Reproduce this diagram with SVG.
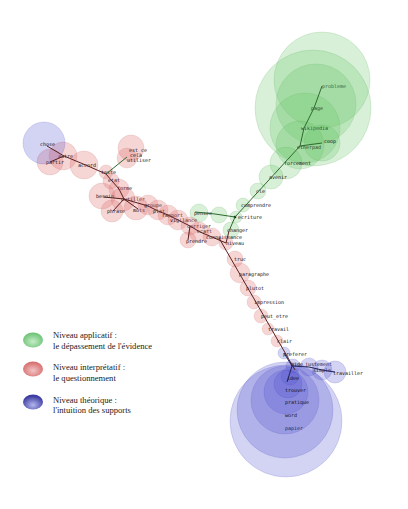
<svg xmlns="http://www.w3.org/2000/svg" width="408" height="509" viewBox="0 0 408 509">
<defs>
<radialGradient id="gG" cx="50%" cy="60%" r="60%"><stop offset="0" stop-color="#c8ecc8"/><stop offset="1" stop-color="#66c070"/></radialGradient>
<radialGradient id="gR" cx="50%" cy="60%" r="60%"><stop offset="0" stop-color="#f3c4c4"/><stop offset="1" stop-color="#d46868"/></radialGradient>
<radialGradient id="gB" cx="50%" cy="70%" r="60%"><stop offset="0" stop-color="#b4b8ee"/><stop offset="1" stop-color="#3c3ca0"/></radialGradient>
<style>
.g{fill:rgb(100,195,100);fill-opacity:.25;stroke:rgb(90,170,90);stroke-opacity:.3;stroke-width:.6}
.r{fill:rgb(225,115,115);fill-opacity:.3;stroke:rgb(200,110,110);stroke-opacity:.3;stroke-width:.6}
.b{fill:rgb(85,85,210);fill-opacity:.26;stroke:rgb(80,80,190);stroke-opacity:.3;stroke-width:.6}
.t{font-family:"DejaVu Sans Mono","Liberation Mono",monospace;font-size:5px;fill:#111}
.lg{font-family:"Liberation Serif",serif;font-size:8.6px;fill:#222}
.eg{fill:none;stroke:#2f6a2f;stroke-width:1}
.er{fill:none;stroke:#5a2020;stroke-width:1}
.eb{fill:none;stroke:#20205a;stroke-width:1}
</style>
</defs>
<rect width="408" height="509" fill="#fff"/>

<!-- green cluster -->
<g id="n-probleme"><circle class="g" cx="322" cy="80" r="48"/><text class="t" x="322" y="88">probleme</text></g>
<g id="n-page"><circle class="g" cx="313" cy="108" r="58"/><circle class="g" cx="316" cy="104" r="40"/><text class="t" x="311" y="110">page</text></g>
<g id="n-wikipedia"><circle class="g" cx="305" cy="128" r="35"/><text class="t" x="301" y="130">wikipedia</text></g>
<g id="n-etherpad"><circle class="g" cx="300" cy="145" r="24"/><text class="t" x="297" y="149">etherpad</text></g>
<g id="n-coop"><circle class="g" cx="322" cy="143" r="18"/><text class="t" x="324" y="143">coop</text></g>
<g id="n-forcement"><circle class="g" cx="286" cy="163" r="16"/><text class="t" x="284" y="165">forcement</text></g>
<g id="n-avenir"><circle class="g" cx="271" cy="177" r="12"/><text class="t" x="269" y="179">avenir</text></g>
<g id="n-cle"><circle class="g" cx="258" cy="191" r="8"/><text class="t" x="256" y="193">cle</text></g>
<g id="n-comprendre"><circle class="g" cx="243" cy="205" r="7"/><text class="t" x="241" y="207">comprendre</text></g>
<g id="n-pensee"><circle class="g" cx="199" cy="213" r="9"/><circle class="g" cx="219" cy="215" r="8"/><text class="t" x="194" y="215">pensee</text></g>
<g id="n-ecriture"><circle class="g" cx="236" cy="217" r="6"/><circle cx="235" cy="217" r="1.3" fill="#000"/><text class="t" x="238" y="219">ecriture</text></g>
<g id="n-changer"><circle class="g" cx="231" cy="230" r="8"/><text class="t" x="227" y="232">changer</text></g>

<!-- red cluster -->
<g id="n-autre"><circle class="r" cx="63" cy="156" r="14"/><text class="t" x="58" y="158">autre</text></g>
<g id="n-partir"><circle class="r" cx="50" cy="162" r="13"/><text class="t" x="46" y="164">partir</text></g>
<g id="n-accord"><circle class="r" cx="84" cy="165" r="14"/><text class="t" x="78" y="167">accord</text></g>
<g id="n-est_ce"><circle class="r" cx="131" cy="148" r="13"/><circle class="r" cx="127" cy="158" r="10"/><text class="t" x="129" y="152">est_ce</text></g>
<g id="n-cela"><text class="t" x="130" y="157">cela</text></g>
<g id="n-utiliser"><text class="t" x="127" y="162">utiliser</text></g>
<g id="n-texte"><circle class="r" cx="106" cy="172" r="7"/><text class="t" x="101" y="174">texte</text></g>
<g id="n-etat"><circle class="r" cx="111" cy="181" r="8"/><text class="t" x="108" y="182">etat</text></g>
<g id="n-forme"><circle class="r" cx="119" cy="189" r="10"/><text class="t" x="117" y="190">forme</text></g>
<g id="n-besoin"><circle class="r" cx="102" cy="196" r="13"/><text class="t" x="96" y="198">besoin</text></g>
<g id="n-outil"><circle class="r" cx="123" cy="199" r="12"/><text class="t" x="121" y="201">outiller</text></g>
<g id="n-phrase"><circle class="r" cx="112" cy="211" r="11"/><text class="t" x="107" y="213">phrase</text></g>
<g id="n-mots"><circle class="r" cx="136" cy="208" r="12"/><text class="t" x="133" y="212">mots</text></g>
<g id="n-groupe"><circle class="r" cx="148" cy="205" r="10"/><text class="t" x="144" y="207">groupe</text></g>
<g id="n-plat"><circle class="r" cx="158" cy="210" r="10"/><text class="t" x="153" y="213">plat</text></g>
<g id="n-rapport"><circle class="r" cx="168" cy="215" r="10"/><text class="t" x="162" y="217">rapport</text></g>
<g id="n-vigilance"><circle class="r" cx="178" cy="220" r="10"/><text class="t" x="170" y="222">vigilance</text></g>
<g id="n-corriger"><circle class="r" cx="190" cy="226" r="9"/><text class="t" x="187" y="228">corriger</text></g>
<g id="n-ecart"><circle class="r" cx="199" cy="232" r="10"/><text class="t" x="197" y="233">ecart</text></g>
<g id="n-connaissance"><circle class="r" cx="212" cy="237" r="9"/><text class="t" x="206" y="239">connaissance</text></g>
<g id="n-prendre"><circle class="r" cx="188" cy="240" r="8"/><text class="t" x="186" y="243">prendre</text></g>
<g id="n-niveau"><circle class="r" cx="226" cy="243" r="7"/><text class="t" x="226" y="245">niveau</text></g>
<g id="n-truc"><circle class="r" cx="235" cy="259" r="8"/><text class="t" x="234" y="261">truc</text></g>
<g id="n-paragraphe"><circle class="r" cx="240" cy="273" r="10"/><text class="t" x="239" y="276">paragraphe</text></g>
<g id="n-plutot"><circle class="r" cx="248" cy="288" r="8"/><text class="t" x="246" y="290">plutot</text></g>
<g id="n-impression"><circle class="r" cx="254" cy="302" r="7"/><text class="t" x="254" y="304">impression</text></g>
<g id="n-peut_etre"><circle class="r" cx="261" cy="316" r="7"/><text class="t" x="261" y="318">peut_etre</text></g>
<g id="n-travail"><circle class="r" cx="268" cy="329" r="6"/><text class="t" x="268" y="331">travail</text></g>
<g id="n-clair"><circle class="r" cx="277" cy="341" r="6"/><text class="t" x="277" y="343">clair</text></g>

<!-- blue cluster -->
<g id="n-chose"><circle class="b" cx="44" cy="143" r="21"/><text class="t" x="40" y="146">chose</text></g>
<g id="n-papier"><circle class="b" cx="286" cy="421" r="56"/><circle class="b" cx="285" cy="410" r="48"/><text class="t" x="285" y="430">papier</text></g>
<g id="n-word"><circle class="b" cx="285" cy="400" r="34"/><text class="t" x="285" y="417">word</text></g>
<g id="n-pratique"><circle class="b" cx="286" cy="392" r="22"/><text class="t" x="285" y="404">pratique</text></g>
<g id="n-trouver"><circle class="b" cx="288" cy="384" r="14"/><text class="t" x="285" y="392">trouver</text></g>
<g id="n-idee"><circle class="b" cx="290" cy="376" r="9"/><text class="t" x="287" y="380">idee</text></g>
<g id="n-aide"><circle class="b" cx="293" cy="366" r="7"/><text class="t" x="291" y="366">aide</text></g>
<g id="n-preferer"><circle class="b" cx="284" cy="353" r="6"/><text class="t" x="283" y="356">preferer</text></g>
<g id="n-justement"><circle class="b" cx="309" cy="367" r="9"/><text class="t" x="305" y="366">justement</text></g>
<g id="n-simple"><circle class="b" cx="322" cy="370" r="10"/><text class="t" x="313" y="372">simple</text></g>
<g id="n-travailler"><circle class="b" cx="335" cy="372" r="11"/><text class="t" x="333" y="375">travailler</text></g>

<!-- connectors -->
<g id="connectors">
<path class="eg" d="M322,86 L314,108 L304,128 L300,146 L235,217"/>
<path class="eg" d="M300,146 L322,143"/>
<path class="eg" d="M195,212 L215,214 L235,217" stroke-width="2"/>
<path class="eg" d="M235,217 L229,231"/>
<path class="er" d="M229,231 L226,243"/>
<path class="er" d="M47,146 L64,156 L88,166 L106,174"/>
<path class="er" d="M50,162 L64,156"/>
<path class="eg" d="M106,174 L127,157" stroke-width="2"/>
<path class="er" d="M106,174 L112,181 L119,189 L124,199"/>
<path class="er" d="M104,197 L124,199 L138,209" stroke-width="1.6"/>
<path class="er" d="M124,199 L113,211"/>
<path class="er" d="M124,199 L148,206 L158,211 L168,215 L178,220 L190,226 L200,232 L212,237 L226,243"/>
<path class="er" d="M190,226 L188,240"/>
<path class="er" d="M219,238 L295,370"/>
<path class="eb" d="M284,353 L292,366 L287,382"/>
<path class="eb" d="M292,366 L309,367 L322,370 L335,372"/>
</g>

<!-- legend -->
<g id="legend">
<ellipse cx="33" cy="340" rx="10" ry="7.5" fill="url(#gG)"/>
<text class="lg" x="53" y="338">Niveau applicatif :</text>
<text class="lg" x="53" y="349">le dépassement de l'évidence</text>
<ellipse cx="33" cy="369" rx="10" ry="7.5" fill="url(#gR)"/>
<text class="lg" x="53" y="370">Niveau interprétatif :</text>
<text class="lg" x="53" y="381">le questionnement</text>
<ellipse cx="33" cy="402" rx="10" ry="7.5" fill="url(#gB)"/>
<text class="lg" x="53" y="403">Niveau théorique :</text>
<text class="lg" x="53" y="413">l'intuition des supports</text>
</g>
</svg>
